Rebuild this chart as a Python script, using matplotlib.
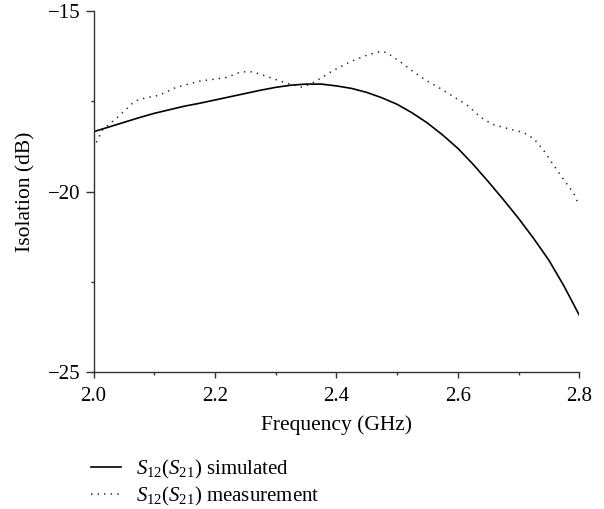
#!/usr/bin/env python3
"""
Isolation (S12/S21): simulated vs measured
"""

import numpy as np
import matplotlib
matplotlib.use("Agg")
import matplotlib.pyplot as plt

# simulated curve
sim_freq = [2.000, 2.025, 2.050, 2.075, 2.100, 2.125, 2.150, 2.175, 2.200,
            2.225, 2.250, 2.275, 2.300, 2.325, 2.350, 2.375, 2.400, 2.425,
            2.450, 2.475, 2.500, 2.525, 2.550, 2.575, 2.600, 2.625, 2.650,
            2.675, 2.700, 2.725, 2.750, 2.775, 2.800]
sim_db = [-18.34, -18.21, -18.08, -17.95, -17.83, -17.73, -17.63, -17.55,
          -17.46, -17.37, -17.28, -17.19, -17.11, -17.05, -17.02, -17.02,
          -17.07, -17.14, -17.25, -17.40, -17.58, -17.82, -18.10, -18.43,
          -18.80, -19.24, -19.72, -20.22, -20.74, -21.30, -21.90, -22.62,
          -23.42]

# measured curve
meas_freq = [2.000, 2.014, 2.028, 2.042, 2.064, 2.075, 2.108, 2.136, 2.174,
             2.218, 2.243, 2.262, 2.284, 2.317, 2.344, 2.364, 2.394, 2.423,
             2.450, 2.473, 2.483, 2.505, 2.527, 2.549, 2.571, 2.593, 2.615,
             2.637, 2.656, 2.686, 2.708, 2.725, 2.741, 2.758, 2.775, 2.791,
             2.800]
meas_db = [-18.80, -18.30, -18.10, -17.90, -17.55, -17.44, -17.33, -17.11,
           -16.94, -16.84, -16.68, -16.68, -16.80, -16.99, -17.11, -16.96,
           -16.65, -16.40, -16.22, -16.11, -16.15, -16.40, -16.68, -16.93,
           -17.14, -17.37, -17.60, -17.93, -18.13, -18.27, -18.36, -18.53,
           -18.85, -19.27, -19.68, -20.05, -20.39]

x_ticks = [2.0, 2.2, 2.4, 2.6, 2.8]
x_labels = ["2.0", "2.2", "2.4", "2.6", "2.8"]
y_ticks = [-25, -20, -15]
y_labels = ["\u221225", "\u221220", "\u221215"]

plt.rcParams["font.family"] = ["Liberation Serif", "DejaVu Serif"]
plt.rcParams["mathtext.fontset"] = "custom"
plt.rcParams["mathtext.rm"] = "Liberation Serif"
plt.rcParams["mathtext.it"] = "Liberation Serif:italic"
plt.rcParams["font.size"] = 15

fig = plt.figure(figsize=(6.04, 5.09), dpi=100)
ax = fig.add_axes([0.155, 0.269, 0.804, 0.709])

ax.plot(sim_freq, sim_db, color="black", lw=1.2,
        label=r"$S_{12}(S_{21})$ simulated")
ax.plot(meas_freq, meas_db, color="#222222", lw=1.1, dashes=(0.9, 3.4),
        label=r"$S_{12}(S_{21})$ measurement")

ax.set_xlim(2.0, 2.8)
ax.set_ylim(-25, -15)
ax.set_xticks(x_ticks)
ax.set_xticklabels(x_labels)
ax.set_yticks(y_ticks)
ax.set_yticklabels(y_labels)
ax.set_xticks(np.arange(2.1, 2.8, 0.2), minor=True)
ax.set_yticks([-22.5, -17.5], minor=True)

for side in ("top", "right"):
    ax.spines[side].set_visible(False)
for side in ("left", "bottom"):
    ax.spines[side].set_linewidth(1.0)
    ax.spines[side].set_color("#333333")

ax.tick_params(axis="y", which="major", direction="out", length=5.5,
               width=1.0, color="#333333", labelsize=15, pad=4)
ax.tick_params(axis="x", which="major", direction="out", length=4.5,
               width=1.0, color="#333333", labelsize=15, pad=6)
ax.tick_params(which="minor", direction="out", length=2, width=1.0,
               color="#333333")

ax.set_xlabel("Frequency (GHz)", fontsize=15.5, labelpad=7)
ax.set_ylabel("Isolation (dB)", fontsize=15.5, labelpad=9)

# legend sits under the axes, left-aligned with the y axis
fig.legend(loc="upper left", bbox_to_anchor=(0.150, 0.101), frameon=False,
           fontsize=15, handlelength=1.45, handletextpad=0.75,
           labelspacing=0.2, borderaxespad=0, borderpad=0)

plt.savefig("out.png", dpi=100)
plt.close()
